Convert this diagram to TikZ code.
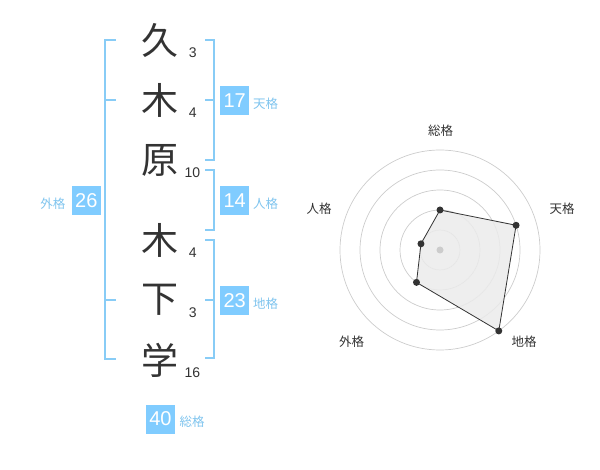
\documentclass[tikz,border=0pt]{standalone}
\usepackage{fontspec}
\setmainfont{Liberation Sans}
\newfontfamily\cjk{Noto Sans CJK JP}
\definecolor{boxblue}{HTML}{80CCFF}
\definecolor{brblue}{HTML}{88CCF6}
\definecolor{lblblue}{HTML}{7FC4EE}
\definecolor{ink}{HTML}{333333}
\definecolor{ring}{HTML}{CCCCCC}
\begin{document}
\begin{tikzpicture}[x=1pt,y=-1pt,
  bigchar/.style={font=\cjk\fontsize{37}{37}\selectfont, text=ink, inner sep=0pt},
  strokes/.style={font=\fontsize{14}{14}\selectfont, text=ink, inner sep=0pt},
  numbox/.style={fill=boxblue, text=white, minimum width=29pt, minimum height=29pt, inner sep=0pt, font=\fontsize{20}{20}\selectfont},
  kaku/.style={font=\cjk\fontsize{12.5}{12.5}\selectfont, text=lblblue, inner sep=0pt},
  bracket/.style={draw=brblue, line width=2pt},
  ringline/.style={draw=ring, line width=0.7pt},
  radarlbl/.style={font=\cjk\fontsize{12.5}{12.5}\selectfont, text=ink, inner sep=0pt},
  dot/.style={circle, fill=ink, inner sep=0pt, minimum size=7pt}
]
\useasboundingbox (0,0) rectangle (600,470);

% characters
\node[bigchar] (c1) at (160,40) {久};
\node[bigchar] (c2) at (160,100) {木};
\node[bigchar] (c3) at (160,160) {原};
\node[bigchar] (c4) at (160,240) {木};
\node[bigchar] (c5) at (160,300) {下};
\node[bigchar] (c6) at (160,360) {学};

% stroke counts
\node[strokes] (s1) at (192.7,52.7) {3};
\node[strokes] (s2) at (192.7,112.7) {4};
\node[strokes] (s3) at (192.5,172.7) {10};
\node[strokes] (s4) at (192.7,252.7) {4};
\node[strokes] (s5) at (192.7,312.7) {3};
\node[strokes] (s6) at (192.5,372.7) {16};

% brackets
\draw[bracket] (115.7,40) -- (105.3,40) -- (105.3,359.5) -- (115.7,359.5);
\draw[bracket] (105.3,100) -- (115.7,100);
\draw[bracket] (105.3,300) -- (115.7,300);

\draw[bracket] (205,40) -- (214.3,40) -- (214.3,160) -- (205,160);
\draw[bracket] (205,100) -- (214.3,100);
\draw[bracket] (205,170) -- (214.3,170) -- (214.3,230) -- (205,230);
\draw[bracket] (205,240) -- (214.3,240) -- (214.3,358.5) -- (205,358.5);
\draw[bracket] (205,300) -- (214.3,300);

% totals
\node[numbox] (ten) at (234.7,100.5) {17};
\node[kaku, anchor=west] (tenl) at (253,103.5) {天格};
\node[numbox] (jin) at (234.7,200.5) {14};
\node[kaku, anchor=west] (jinl) at (253,203.5) {人格};
\node[numbox] (chi) at (234.7,300.5) {23};
\node[kaku, anchor=west] (chil) at (253,303.5) {地格};
\node[numbox] (gai) at (86.3,200.5) {26};
\node[kaku, anchor=east] (gail) at (65.5,203.5) {外格};
\node[numbox] (sou) at (160.5,419) {40};
\node[kaku, anchor=west] (soul) at (179.5,422) {総格};

% radar chart (y axis points down, so angles are negated)
\coordinate (rc) at (440,250);
\foreach \r in {20,40,60,80,100} \draw[ringline] (rc) circle (\r pt);
\coordinate (p1) at ([shift={(-90:40)}]rc);
\coordinate (p2) at ([shift={(-18:80)}]rc);
\coordinate (p3) at ([shift={(54:100)}]rc);
\coordinate (p4) at ([shift={(126:40)}]rc);
\coordinate (p5) at ([shift={(198:20)}]rc);
\filldraw[fill=black!8, fill opacity=0.85, draw=ink, line width=0.8pt] (p1) -- (p2) -- (p3) -- (p4) -- (p5) -- cycle;
\fill[ring] (rc) circle (3.5pt);
\foreach \p in {p1,p2,p3,p4,p5} \node[dot] at (\p) {};

\node[radarlbl] (r1) at (440.7,130.7) {総格};
\node[radarlbl] (r2) at (562,209) {天格};
\node[radarlbl] (r3) at (524,342) {地格};
\node[radarlbl] (r4) at (351.7,342) {外格};
\node[radarlbl] (r5) at (319,209) {人格};
\end{tikzpicture}
\end{document}
